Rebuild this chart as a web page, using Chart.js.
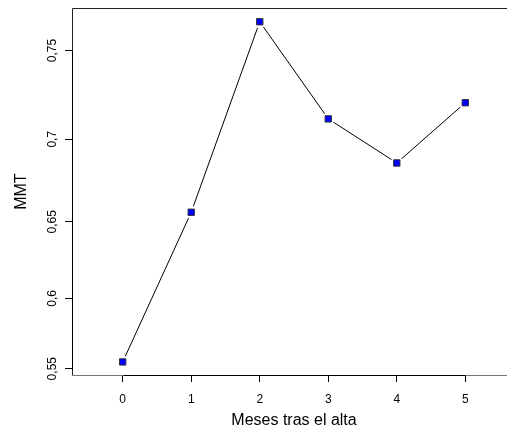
<!DOCTYPE html>
<html>
<head>
<meta charset="utf-8">
<script src="https://cdn.jsdelivr.net/npm/chart.js@4/dist/chart.umd.min.js"></script>
<style>
html,body{margin:0;padding:0;background:#fff;overflow:hidden;}
#wrap{position:absolute;left:0;top:0;width:507px;height:430px;overflow:hidden;}
#c{position:absolute;left:0;top:0;}
</style>
</head>
<body>
<div id="wrap"><canvas id="c" width="530" height="430"></canvas></div>
<script>
const months = [0, 1, 2, 3, 4, 5];
const mmt = [0.555, 0.656, 0.7655, 0.7118, 0.686, 0.721];
const xTicks = [0, 1, 2, 3, 4, 5];
const yTicks = [0.55, 0.6, 0.65, 0.7, 0.75];
const xTitle = 'Meses tras el alta';
const yTitle = 'MMT';

class SqScale extends Chart.LinearScale {
  getPixelForValue(v) {
    if (v === null || v === undefined) return NaN;
    const a = this.min * this.min, b = this.max * this.max;
    return this.getPixelForDecimal((v * v - a) / (b - a));
  }
  getValueForPixel(p) {
    const d = this.getDecimalForPixel(p);
    const a = this.min * this.min, b = this.max * this.max;
    return Math.sqrt(a + d * (b - a));
  }
}
SqScale.id = 'sq';
SqScale.defaults = Object.assign({}, Chart.LinearScale.defaults);
Chart.register(SqScale);

const pts = months.map((m, i) => ({x: m, y: mmt[i]}));

const boxPlugin = {
  id: 'box',
  afterDraw(chart) {
    const {ctx, chartArea: ca, scales, width} = chart;
    ctx.save();
    ctx.lineWidth = 1;
    const l = Math.round(ca.left) + 0.5, t = Math.round(ca.top) + 0.5, b = Math.round(ca.bottom) + 0.5;
    ctx.strokeStyle = '#222';
    ctx.beginPath();
    ctx.moveTo(width, t); ctx.lineTo(l, t); ctx.lineTo(l, b);
    ctx.stroke();
    ctx.strokeStyle = '#777';
    ctx.beginPath();
    ctx.moveTo(l, b); ctx.lineTo(width, b);
    ctx.stroke();
    ctx.strokeStyle = '#000';
    const xs = scales.x, ys = scales.y;
    ctx.beginPath();
    ctx.moveTo(Math.round(xs.getPixelForValue(xTicks[0])) + 0.5, b);
    ctx.lineTo(Math.round(xs.getPixelForValue(xTicks[xTicks.length - 1])) + 0.5, b);
    ctx.moveTo(l, Math.round(ys.getPixelForValue(yTicks[0])) + 0.5);
    ctx.lineTo(l, Math.round(ys.getPixelForValue(yTicks[yTicks.length - 1])) + 0.5);
    ctx.stroke();
    ctx.restore();
  }
};

new Chart(document.getElementById('c'), {
  type: 'line',
  data: {
    datasets: [
      {data: pts, borderColor: '#000', borderWidth: 1, pointRadius: 0, fill: false, tension: 0, order: 3},
      {data: pts, showLine: false, pointStyle: 'circle', pointRadius: 6.5, pointBackgroundColor: '#fff', pointBorderWidth: 0, pointBorderColor: '#fff', order: 2},
      {data: pts, showLine: false, pointStyle: 'rect', pointRadius: 4.5, pointBackgroundColor: '#0000ff', pointBorderColor: '#333', pointBorderWidth: 1, order: 1}
    ]
  },
  options: {
    responsive: false,
    animation: false,
    events: [],
    layout: {padding: {top: 8, right: 14, left: 0, bottom: 0}},
    plugins: {legend: {display: false}, tooltip: {enabled: false}},
    scales: {
      x: {
        type: 'linear', min: -0.74, max: 5.74,
        afterBuildTicks: s => { s.ticks = xTicks.map(v => ({value: v})); },
        afterFit: s => { s.height = 55; },
        border: {display: false},
        grid: {drawOnChartArea: false, drawTicks: true, tickLength: 7, color: '#000', tickColor: '#000'},
        ticks: {color: '#000', font: {family: 'Liberation Sans, Arial, sans-serif', size: 12}, padding: 10, maxRotation: 0, minRotation: 0, callback: v => String(v)},
        title: {display: true, text: xTitle, color: '#000', font: {family: 'Liberation Sans, Arial, sans-serif', size: 16}, padding: {top: 0, bottom: 0}}
      },
      y: {
        type: 'sq', min: 0.5453, max: 0.7727,
        afterBuildTicks: s => { s.ticks = yTicks.map(v => ({value: v})); },
        afterFit: s => { s.width = 72; },
        border: {display: false},
        grid: {drawOnChartArea: false, drawTicks: true, tickLength: 7, color: '#000', tickColor: '#000'},
        ticks: {color: '#000', font: {family: 'Liberation Sans, Arial, sans-serif', size: 12}, padding: 1, minRotation: 90, maxRotation: 90, crossAlign: 'center', callback: v => String(v).replace('.', ',')},
        title: {display: true, text: yTitle, color: '#000', font: {family: 'Liberation Sans, Arial, sans-serif', size: 16}, padding: {top: 12, bottom: 0}}
      }
    }
  },
  plugins: [boxPlugin]
});
</script>
</body>
</html>
